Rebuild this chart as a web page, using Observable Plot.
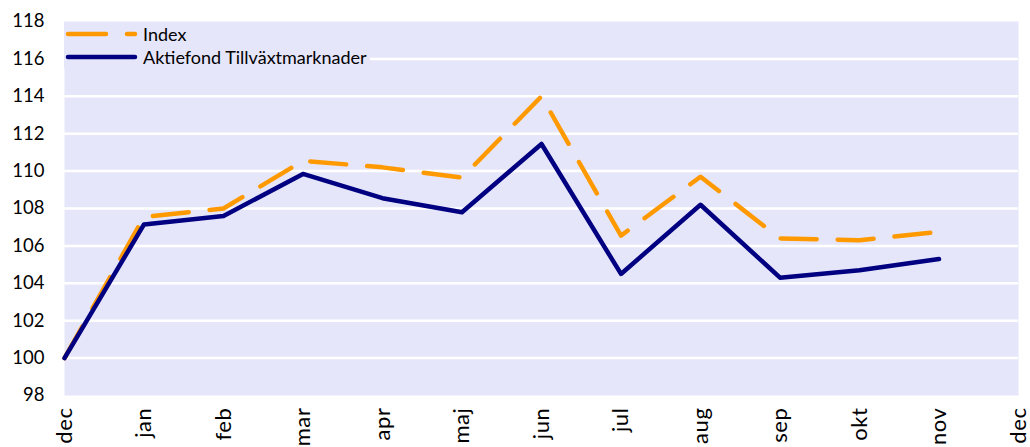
<!DOCTYPE html>
<html>
<head>
<meta charset="utf-8">
<script src="https://cdn.jsdelivr.net/npm/d3@7"></script>
<script src="https://cdn.jsdelivr.net/npm/@observablehq/plot@0.6"></script>
<style>
  html, body { margin: 0; padding: 0; background: #fff; overflow: hidden; }
  #wrap { position: relative; width: 1030px; height: 447px; font-family: Lato, "Open Sans", sans-serif; }
  #legend { position: absolute; left: 64px; top: 22px; width: 306px; height: 46px; background: #e6e6fa; }
  .row { position: absolute; left: 0; height: 22px; display: flex; align-items: center; font-size: 18px; color: #000; white-space: nowrap; }
  .row svg { margin-right: 3px; }
  .xax text { letter-spacing: 0.6px; }
</style>
</head>
<body>
<div id="wrap"></div>
<script>
const months = ["dec", "jan", "feb", "mar", "apr", "maj", "jun", "jul", "aug", "sep", "okt", "nov", "dec"];
const indexValues = [100, 107.55, 108.0, 110.55, 110.2, 109.65, 114.0, 106.55, 109.7, 106.4, 106.3, 106.75];
const fundValues = [100, 107.15, 107.6, 109.85, 108.55, 107.8, 111.45, 104.5, 108.2, 104.3, 104.7, 105.3];
const yTicks = [98, 100, 102, 104, 106, 108, 110, 112, 114, 116, 118];
const seriesNames = ["Index", "Aktiefond Tillväxtmarknader"];

const indexData = indexValues.map((v, i) => ({i, v}));
const fundData = fundValues.map((v, i) => ({i, v}));

const chart = Plot.plot({
  width: 1030,
  height: 447,
  marginLeft: 64,
  marginRight: 12,
  marginTop: 21,
  marginBottom: 52,
  style: {fontFamily: "Lato, 'Open Sans', sans-serif", fontSize: "18px", color: "#000", background: "transparent", overflow: "visible"},
  x: {type: "linear", domain: [0, 12], label: null},
  y: {domain: [98, 118], label: null},
  marks: [
    Plot.frame({fill: "#e6e6fa", stroke: null}),
    Plot.ruleY(yTicks.filter(t => t > 98 && t < 118), {stroke: "#ffffff", strokeWidth: 2.5}),
    Plot.axisY({ticks: yTicks, tickSize: 0, tickPadding: 20, fontSize: 18.5, label: null}),
    Plot.axisX({ticks: d3.range(months.length), tickFormat: i => months[i], tickSize: 0, tickRotate: -90, tickPadding: 12, fontSize: 22, label: null, className: "xax"}),
    Plot.line(indexData, {x: "i", y: "v", stroke: "#ff9900", strokeWidth: 4.5, strokeDasharray: "36,21", strokeLinecap: "round", strokeLinejoin: "round"}),
    Plot.line(fundData, {x: "i", y: "v", stroke: "#000080", strokeWidth: 4.5, strokeLinejoin: "round"})
  ]
});
const wrap = document.getElementById("wrap");
wrap.appendChild(chart);

const legend = document.createElement("div");
legend.id = "legend";
legend.innerHTML = `
  <div class="row" style="top:1px"><svg width="76" height="10"><line x1="4" y1="5" x2="71" y2="5" stroke="#ff9900" stroke-width="4.5" stroke-linecap="round" stroke-dasharray="38,21"/></svg>${seriesNames[0]}</div>
  <div class="row" style="top:24px"><svg width="76" height="10"><line x1="4" y1="5" x2="71" y2="5" stroke="#000080" stroke-width="4.5" stroke-linecap="round"/></svg>${seriesNames[1]}</div>`;
wrap.appendChild(legend);
</script>
</body>
</html>
